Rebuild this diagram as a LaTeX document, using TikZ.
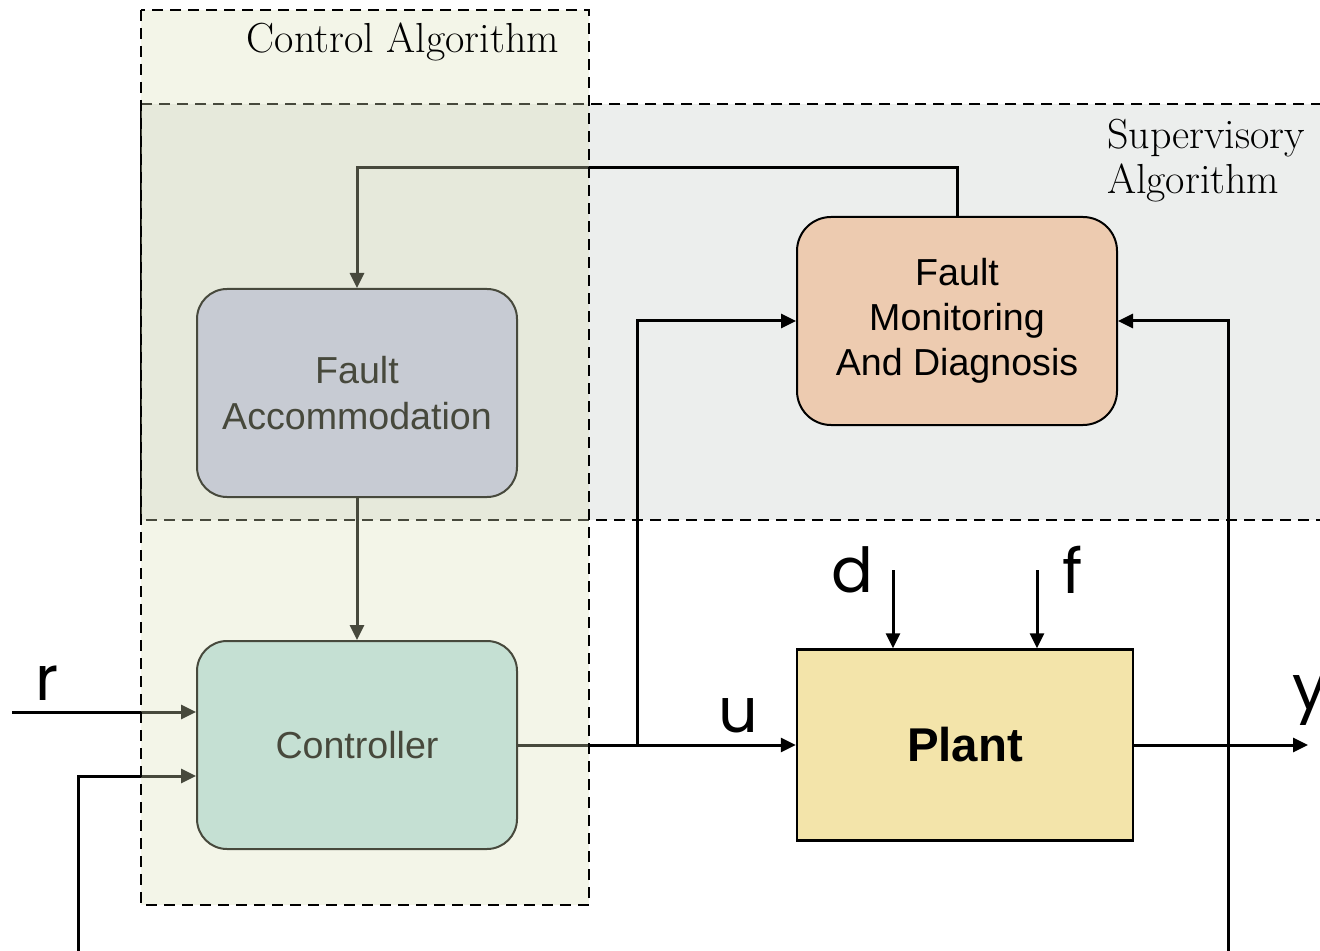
\documentclass[tikz,border=0pt]{standalone}
\usepackage{fontspec}
\newfontfamily\boxfont{Liberation Sans}
\newfontfamily\sigfont{Poppins}
\usetikzlibrary{arrows.meta,positioning}
\definecolor{supergray}{RGB}{236,238,237}
\definecolor{ctrlwash}{RGB}{218,224,185}
\definecolor{accomfill}{RGB}{191,193,224}
\definecolor{ctrlfill}{RGB}{188,224,225}
\definecolor{fmdfill}{RGB}{237,203,176}
\definecolor{plantfill}{RGB}{243,228,170}

\begin{document}
\begin{tikzpicture}[x=0.5pt,y=-0.5pt,>={Triangle[length=7.5pt,width=7pt]},
   block/.style={draw,line width=1pt,rounded corners=15pt,minimum width=160pt,
     minimum height=104pt,align=center,font=\boxfont\fontsize{18.8}{22.6}\selectfont},
   sig/.style={->,line width=1.5pt},
   region/.style={line width=1.2pt,dash pattern=on 5.5pt off 3.5pt},
   siglabel/.style={font=\sigfont\fontsize{31}{31}\selectfont},
   title/.style={font=\fontsize{21}{22.5}\selectfont}]
  \useasboundingbox (0,0) rectangle (1320,951);
  \clip (0,0) rectangle (1320,951);

  % supervisory layer
  \fill[supergray] (141,104) rectangle (1340,520);
  \draw[region] (1340,104) -- (141,104) -- (141,520) -- (1340,520);

  % blocks
  \node[block,fill=accomfill] (FA) at (357,393) {Fault\\Accommodation};
  \node[block,fill=ctrlfill] (Ctrl) at (357,745) {Controller};
  \node[block,fill=fmdfill,rounded corners=17pt] (FMD) at (957,321)
     {Fault\\Monitoring\\And Diagnosis};
  \node[draw,line width=1.2pt,fill=plantfill,minimum width=168pt,minimum height=95.5pt,
     font=\boxfont\bfseries\fontsize{23.7}{28}\selectfont] (Plant) at (965,745) {Plant};

  % free ends
  \coordinate (rin) at (12,712);
  \coordinate (fbL) at (78,960);
  \coordinate (fbR) at (1228,960);
  \coordinate (br) at (637,745);
  \coordinate (din) at (893,570);
  \coordinate (fin) at (1037,570);
  \coordinate (yout) at (1308,745);

  % signals
  \draw[sig] (FMD.north) -- ++(0,-48) -| (FA.north);
  \draw[sig] (FA.south) -- (Ctrl.north);
  \draw[sig] (Ctrl.east) -- (Plant.west);
  \draw[sig] (br) |- (FMD.west);
  \draw[sig] (fbR) |- (FMD.east);
  \draw[sig] (rin) -- (rin -| Ctrl.west);
  \draw[sig] (fbL) |- ([yshift=-15.5pt]Ctrl.west);
  \draw[sig] (din) -- (din |- Plant.north);
  \draw[sig] (fin) -- (fin |- Plant.north);
  \draw[sig] (Plant.east) -- (yout);

  \node[siglabel] (rlab) at (47,683) {r};
  \node[siglabel] (ulab) at (738,716) {u};
  \node[siglabel] (dlab) at (852,570) {d};
  \node[siglabel] (flab) at (1073,570) {f};
  \node[siglabel] (ylab) at (1310,701) {y};

  % control layer on top
  \fill[ctrlwash,fill opacity=0.33] (141,10) rectangle (589,905);
  \draw[region] (141,10) rectangle (589,905);

  \node[title,anchor=east] (ctrltitle) at (566,42) {Control Algorithm};
  \node[title,align=left,anchor=north west] (suptitle) at (1100,112)
     {Supervisory\\Algorithm};
\end{tikzpicture}
\end{document}
